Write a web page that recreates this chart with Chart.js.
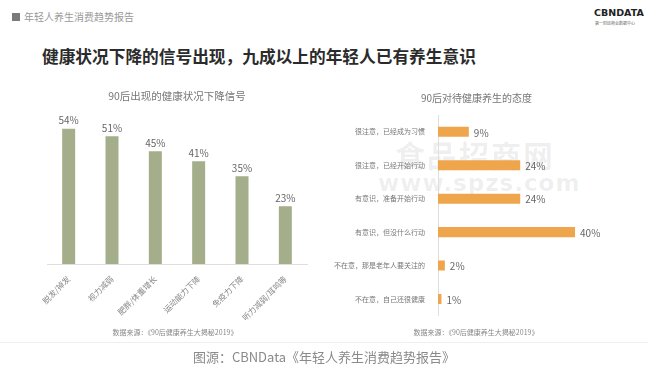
<!DOCTYPE html>
<html>
<head>
<meta charset="utf-8">
<script src="https://cdn.jsdelivr.net/npm/chart.js@4/dist/chart.umd.min.js"></script>
<style>
  html, body { margin: 0; padding: 0; background: #fff; }
  body { width: 648px; height: 374px; position: relative; overflow: hidden; font-family: "Noto Sans CJK SC", "Noto Sans", sans-serif; }
  .abs { position: absolute; white-space: nowrap; }
  #slide { position: absolute; left: 0; top: 0; width: 648px; height: 342px; background: #fff; border-bottom: 1px solid #eee; }
  #hdr-box { left: 12px; top: 13px; width: 8px; height: 8px; background: #7a7a7a; }
  #hdr { left: 24px; top: 9px; font-size: 10px; color: #999; }
  #logo { left: 594px; top: 7px; font-size: 9.5px; font-weight: bold; color: #222; font-family: "DejaVu Sans", sans-serif; }
  #logo-sub { left: 595px; top: 20px; font-size: 4px; color: #666; }
  #title { left: 42px; top: 44px; font-size: 16.7px; font-weight: bold; color: #2b2b2b; }
  .src { top: 327px; font-size: 7px; color: #888; transform: translateX(-50%); }
  #caption { left: 324px; top: 347px; font-size: 13px; color: #8a8a8a; transform: translateX(-50%); }
  .wm { color: rgba(0,0,0,0.07); font-weight: bold; }
  #left-wrap { position: absolute; left: 30px; top: 80px; width: 290px; height: 250px; }
  #right-wrap { position: absolute; left: 330px; top: 80px; width: 310px; height: 245px; }
</style>
</head>
<body>
<div id="slide"></div>
<div class="abs" id="hdr-box"></div>
<div class="abs" id="hdr">年轻人养生消费趋势报告</div>
<div class="abs" id="logo">CBNDATA</div>
<div class="abs" id="logo-sub">第一财经商业数据中心</div>
<div class="abs" id="title">健康状况下降的信号出现，九成以上的年轻人已有养生意识</div>
<div class="abs wm" style="left:395px;top:132px;font-size:30px;letter-spacing:2px;">食品招商网</div>
<div class="abs wm" style="left:378px;top:170px;font-size:23px;letter-spacing:1px;font-family:'DejaVu Sans',sans-serif;">www.spzs.com</div>
<div id="left-wrap"><canvas id="leftChart"></canvas></div>
<div id="right-wrap"><canvas id="rightChart"></canvas></div>
<div class="abs src" style="left:175px;">数据来源：《90后健康养生大揭秘2019》</div>
<div class="abs src" style="left:476px;">数据来源：《90后健康养生大揭秘2019》</div>
<div class="abs" id="caption">图源：CBNData《年轻人养生消费趋势报告》</div>

<script>
const leftTitle = '90后出现的健康状况下降信号';
const leftCategories = ['脱发/掉发', '视力减弱', '肥胖/体重增长', '运动能力下降', '免疫力下降', '听力减弱/耳鸣等'];
const leftValues = [54, 51, 45, 41, 35, 23];

const rightTitle = '90后对待健康养生的态度';
const rightCategories = ['很注意，已经成为习惯', '很注意，已经开始行动', '有意识，准备开始行动', '有意识，但没什么行动', '不在意，那是老年人要关注的', '不在意，自己还很健康'];
const rightValues = [9, 24, 24, 40, 2, 1];

const FONT = '"Noto Sans CJK SC", "Noto Sans", sans-serif';

// draws "54%" style labels next to each bar
const valueLabels = {
    id: 'valueLabels',
    afterDatasetsDraw(chart) {
        const ctx = chart.ctx;
        const horizontal = chart.options.indexAxis === 'y';
        chart.data.datasets.forEach((ds, i) => {
            chart.getDatasetMeta(i).data.forEach((bar, idx) => {
                ctx.save();
                ctx.fillStyle = '#666';
                ctx.font = `10px ${FONT}`;
                if (horizontal) {
                    ctx.textAlign = 'left';
                    ctx.textBaseline = 'middle';
                    ctx.fillText(`${ds.data[idx]}%`, bar.x + 5, bar.y + 1);
                } else {
                    ctx.textAlign = 'center';
                    ctx.textBaseline = 'bottom';
                    ctx.fillText(`${ds.data[idx]}%`, bar.x, bar.y - 3);
                }
                ctx.restore();
            });
        });
    }
};

new Chart(document.getElementById('leftChart'), {
    type: 'bar',
    data: {
        labels: leftCategories,
        datasets: [{
            data: leftValues,
            backgroundColor: '#a4ae8a',
            categoryPercentage: 1,
            barPercentage: 0.3
        }]
    },
    options: {
        responsive: true,
        maintainAspectRatio: false,
        animation: false,
        layout: { padding: { left: 17, right: 13, bottom: 10 } },
        plugins: {
            legend: { display: false },
            tooltip: { enabled: false },
            title: {
                display: true,
                text: leftTitle,
                color: '#777',
                font: { family: FONT, size: 10.5, weight: 'normal' },
                padding: { top: 10, bottom: 11 }
            }
        },
        scales: {
            x: {
                grid: { display: false },
                border: { color: '#dedede' },
                ticks: { color: '#888', font: { family: FONT, size: 8 }, minRotation: 45, maxRotation: 45, padding: 2 },
                afterFit: (scale) => { scale.height = 56; }
            },
            y: { display: false, min: 0, max: 60 }
        }
    },
    plugins: [valueLabels]
});

new Chart(document.getElementById('rightChart'), {
    type: 'bar',
    data: {
        labels: rightCategories,
        datasets: [{
            data: rightValues,
            backgroundColor: '#eea54b',
            categoryPercentage: 1,
            barPercentage: 0.3
        }]
    },
    options: {
        indexAxis: 'y',
        responsive: true,
        maintainAspectRatio: false,
        animation: false,
        layout: { padding: { right: 17, bottom: 8 } },
        plugins: {
            legend: { display: false },
            tooltip: { enabled: false },
            title: {
                display: true,
                text: rightTitle,
                color: '#777',
                font: { family: FONT, size: 10, weight: 'normal' },
                padding: { top: 12, bottom: 11 }
            }
        },
        scales: {
            x: { display: false, min: 0, max: 54 },
            y: {
                grid: { display: false },
                border: { color: '#dedede' },
                ticks: { color: '#777', font: { family: FONT, size: 7 }, padding: 5 },
                afterFit: (scale) => { scale.width = 108; }
            }
        }
    },
    plugins: [valueLabels]
});
</script>
</body>
</html>
